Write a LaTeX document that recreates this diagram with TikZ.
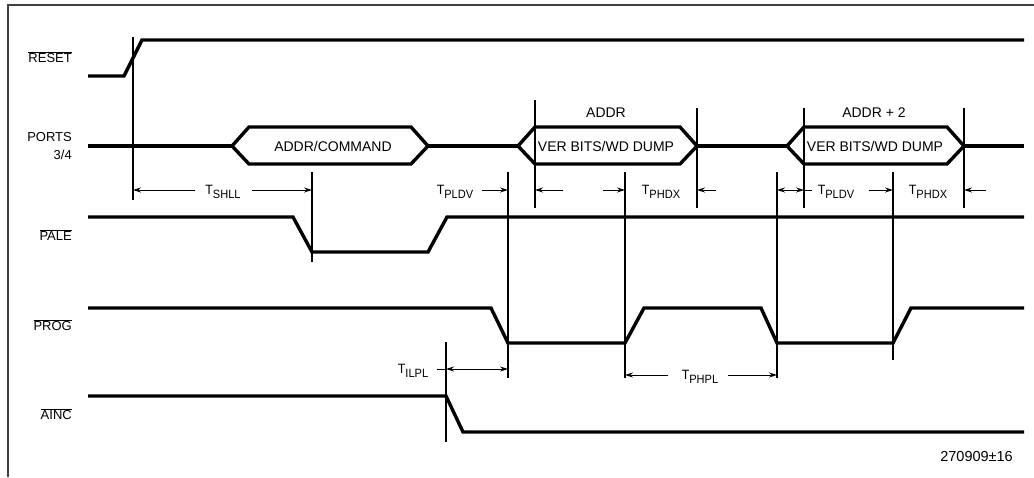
\documentclass[tikz,border=0pt]{standalone}
\usepackage{fontspec}
\setmainfont{Liberation Sans}
\usetikzlibrary{arrows.meta}
\newcommand{\tsig}[1]{\scalebox{0.92}[1]{T\raisebox{-4pt}{\fontsize{12}{12}\selectfont #1}}}
\newcommand{\ovl}[1]{$\overline{\mbox{#1}}$}
\begin{document}
\begin{tikzpicture}[x=1pt,y=-1pt,
  sig/.style={line width=3.4pt, line join=miter},
  tick/.style={line width=1.1pt},
  dimarrow/.style={line width=0.9pt, -{Stealth[length=8pt,width=5pt]}},
  dimboth/.style={line width=0.9pt, {Stealth[length=8pt,width=5pt]}-{Stealth[length=8pt,width=5pt]}},
  lbl/.style={font=\fontsize{13}{18}\selectfont, inner sep=0pt},
  hexlbl/.style={font=\fontsize{14}{16}\selectfont, inner sep=0pt},
  tlbl/.style={font=\fontsize{13.5}{14}\selectfont, inner sep=0pt}]
\useasboundingbox (0,0) rectangle (1034,477);
% frame
\draw[line width=1.3pt, black!75] (8,477) -- (8,5) -- (1034,5);

% signal names
\node[lbl, anchor=east] (nreset) at (72,57) {\ovl{RESET}};
\node[lbl, anchor=east, align=right] (nports) at (72,146) {PORTS\\3/4};
\node[lbl, anchor=east] (npale) at (72,235) {\ovl{PALE}};
\node[lbl, anchor=east] (nprog) at (72,325) {\ovl{PROG}};
\node[lbl, anchor=east] (nainc) at (72,414) {\ovl{AINC}};

% RESET
\draw[sig] (88,76) -- (124,76) -- (142,40) -- (1024,40);
% PORTS 3/4
\draw[sig] (88,146) -- (232,146);
\draw[sig] (232,146) -- (249,127) -- (411,127) -- (428,146) -- (411,164) -- (249,164) -- cycle;
\draw[sig] (428,146) -- (518,146);
\draw[sig] (518,146) -- (535,127) -- (680,127) -- (697,146) -- (680,164) -- (535,164) -- cycle;
\draw[sig] (697,146) -- (787,146);
\draw[sig] (787,146) -- (804,127) -- (947,127) -- (964,146) -- (947,164) -- (804,164) -- cycle;
\draw[sig] (964,146) -- (1024,146);
\node[hexlbl] (hex1) at (333,146) {ADDR/COMMAND};
\node[hexlbl] (hex2) at (606,146) {VER BITS/WD DUMP};
\node[hexlbl] (hex3) at (875,146) {VER BITS/WD DUMP};
\node[hexlbl] (addr1) at (606,113) {ADDR};
\node[hexlbl] (addr2) at (874,113) {ADDR + 2};
% PALE
\draw[sig] (88,217) -- (293,217) -- (312,252) -- (428,252) -- (447,217) -- (1024,217);
% PROG
\draw[sig] (88,308) -- (491,308) -- (508,343) -- (625,343) -- (644,308) -- (761,308) -- (777,343) -- (893,343) -- (911,308) -- (1024,308);
% AINC
\draw[sig] (88,396) -- (446,396) -- (463,432) -- (1024,432);

% vertical reference lines
\draw[tick] (133,37) -- (133,200);
\draw[tick] (312,172) -- (312,262);
\draw[tick] (508,172) -- (508,378);
\draw[tick] (535,100) -- (535,208);
\draw[tick] (625,172) -- (625,378);
\draw[tick] (697,108) -- (697,208);
\draw[tick] (777,172) -- (777,378);
\draw[tick] (804,108) -- (804,208);
\draw[tick] (893,172) -- (893,360);
\draw[tick] (964,108) -- (964,208);
\draw[tick] (446,342) -- (446,442);

% timing arrows
\draw[dimarrow] (195,190) -- (133,190);
\draw[dimarrow] (252,190) -- (312,190);
\node[tlbl] (tshll) at (223,192) {\tsig{SHLL}};

\node[tlbl] (tpldv1) at (455,192) {\tsig{PLDV}};
\draw[dimarrow] (482,190) -- (508,190);

\draw[dimarrow] (563,190) -- (535,190);
\draw[dimarrow] (603,190) -- (625,190);
\node[tlbl] (tphdx1) at (661,192) {\tsig{PHDX}};
\draw[dimarrow] (716,190) -- (697,190);

\draw[dimboth] (777,190) -- (804,190);
\draw[line width=0.9pt] (804,190) -- (812,190);
\node[tlbl] (tpldv2) at (836,192) {\tsig{PLDV}};
\draw[dimarrow] (869,190) -- (893,190);
\node[tlbl] (tphdx2) at (928,192) {\tsig{PHDX}};
\draw[dimarrow] (986,190) -- (964,190);

\node[tlbl] (tilpl) at (413,371) {\tsig{ILPL}};
\draw[line width=0.9pt] (437,369) -- (446,369);
\draw[dimboth] (446,369) -- (508,369);

\draw[dimarrow] (668,375) -- (625,375);
\draw[dimarrow] (728,375) -- (777,375);
\node[tlbl] (tphpl) at (700,377) {\tsig{PHPL}};

\node[font=\fontsize{14.5}{16}\selectfont, inner sep=0pt, anchor=east] (fig) at (1013,457) {270909±16};
\end{tikzpicture}
\end{document}
